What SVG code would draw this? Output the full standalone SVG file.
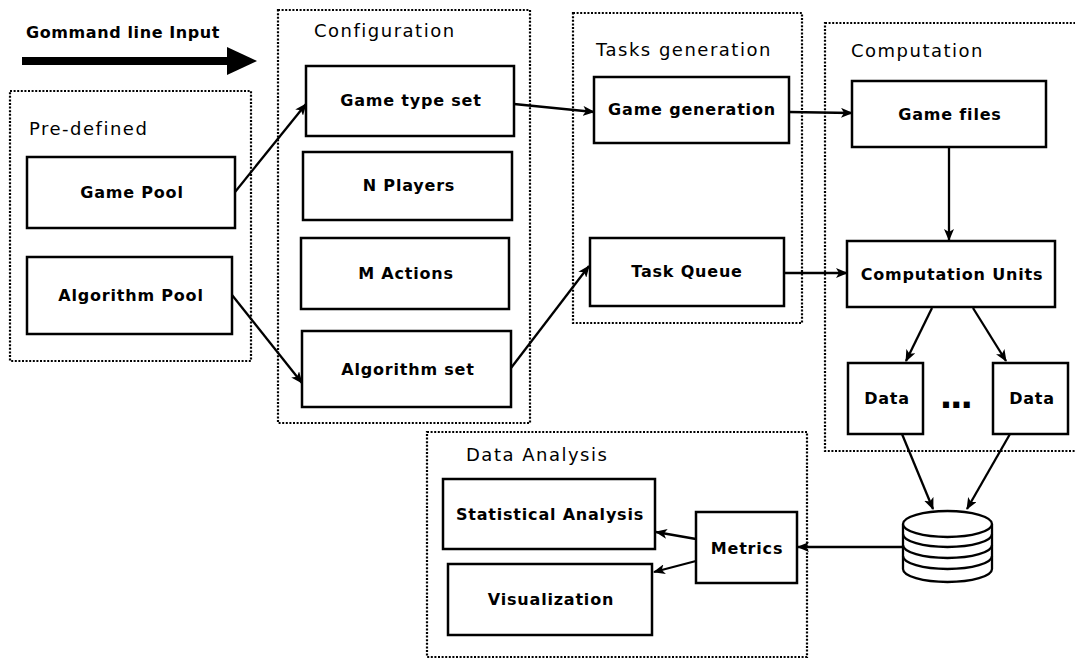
<svg xmlns="http://www.w3.org/2000/svg" width="1075" height="658" viewBox="0 0 1075 658">
<style>
.grp{fill:none;stroke:#000;stroke-width:2.2;stroke-dasharray:2 1.6}
.box{fill:#fff;stroke:#000;stroke-width:2.5}
.t{font-family:"DejaVu Sans",sans-serif;font-weight:bold;font-size:16px;letter-spacing:0.8px;fill:#000;text-anchor:middle}
.h{font-family:"DejaVu Sans",sans-serif;font-size:18px;letter-spacing:1.5px;fill:#000}
.c{fill:none;stroke:#000;stroke-width:2.3}
.db{fill:#fff;stroke:#000;stroke-width:2.3}
</style>
<defs>
<marker id="ah" viewBox="0 0 12 10" refX="11" refY="5" markerWidth="12" markerHeight="10" markerUnits="userSpaceOnUse" orient="auto">
<path d="M0,0 L12,5 L0,10 L3,5 z" fill="#000"/>
</marker>
</defs>
<rect width="1075" height="658" fill="#fff"/>

<g id="cmd-input">
<text x="26" y="38" font-family="DejaVu Sans,sans-serif" font-weight="bold" font-size="16px" letter-spacing="0.6px">Gommand line Input</text>
<line x1="22" y1="61" x2="230" y2="61" stroke="#000" stroke-width="8"/>
<path d="M227,47 L257,61 L227,75 Z" fill="#000"/>
</g>

<g id="predefined">
<rect class="grp" x="10" y="91" width="241" height="270"/>
<text class="h" x="29" y="135">Pre-defined</text>
</g>
<g id="game-pool"><rect class="box" x="27" y="157" width="208" height="71"/><text class="t" x="132" y="198">Game Pool</text></g>
<g id="algorithm-pool"><rect class="box" x="27" y="257" width="205" height="77"/><text class="t" x="131" y="301">Algorithm Pool</text></g>

<g id="configuration">
<rect class="grp" x="278" y="10" width="252" height="413"/>
<text class="h" x="314" y="37">Configuration</text>
</g>
<g id="game-type-set"><rect class="box" x="306" y="66" width="208" height="70"/><text class="t" x="411" y="106">Game type set</text></g>
<g id="n-players"><rect class="box" x="303" y="152" width="209" height="68"/><text class="t" x="409" y="191">N Players</text></g>
<g id="m-actions"><rect class="box" x="301" y="238" width="208" height="71"/><text class="t" x="406" y="279">M Actions</text></g>
<g id="algorithm-set"><rect class="box" x="302" y="331" width="209" height="76"/><text class="t" x="408" y="375">Algorithm set</text></g>

<g id="tasks-generation">
<rect class="grp" x="573" y="13" width="229" height="310"/>
<text class="h" x="596" y="56">Tasks generation</text>
</g>
<g id="game-generation"><rect class="box" x="594" y="77" width="195" height="66"/><text class="t" x="692" y="115">Game generation</text></g>
<g id="task-queue"><rect class="box" x="590" y="238" width="194" height="68"/><text class="t" x="687" y="277">Task Queue</text></g>

<g id="computation">
<rect class="grp" x="825" y="23" width="260" height="428"/>
<text class="h" x="851" y="57">Computation</text>
</g>
<g id="game-files"><rect class="box" x="852" y="81" width="194" height="66"/><text class="t" x="950" y="120">Game files</text></g>
<g id="computation-units"><rect class="box" x="847" y="241" width="208" height="66"/><text class="t" x="952" y="280">Computation Units</text></g>
<g id="data-1"><rect class="box" x="848" y="363" width="75" height="71"/><text class="t" x="887" y="404">Data</text></g>
<g id="ellipsis"><text x="955" y="408" font-family="DejaVu Sans,sans-serif" font-weight="bold" font-size="34px" letter-spacing="-2.5px" text-anchor="middle">...</text></g>
<g id="data-2"><rect class="box" x="993" y="363" width="75" height="71"/><text class="t" x="1032" y="404">Data</text></g>

<g id="database">
<path class="db" d="M903,524 L903,569 A44.5,13 0 0 0 992,569 L992,524"/>
<ellipse class="db" cx="947.5" cy="524" rx="44.5" ry="13"/>
<path class="c" d="M903,534 A44.5,13 0 0 0 992,534 M903,545 A44.5,13 0 0 0 992,545 M903,556 A44.5,13 0 0 0 992,556"/>
</g>

<g id="data-analysis">
<rect class="grp" x="427" y="432" width="380" height="225"/>
<text class="h" x="466" y="461">Data Analysis</text>
</g>
<g id="statistical-analysis"><rect class="box" x="443" y="479" width="212" height="70"/><text class="t" x="550" y="520">Statistical Analysis</text></g>
<g id="visualization"><rect class="box" x="448" y="564" width="204" height="71"/><text class="t" x="551" y="605">Visualization</text></g>
<g id="metrics"><rect class="box" x="696" y="512" width="101" height="71"/><text class="t" x="747" y="554">Metrics</text></g>

<g id="connectors">
<line class="c" x1="235" y1="192" x2="306" y2="104" marker-end="url(#ah)"/>
<line class="c" x1="232" y1="295" x2="302" y2="383" marker-end="url(#ah)"/>
<line class="c" x1="514" y1="104" x2="594" y2="112" marker-end="url(#ah)"/>
<line class="c" x1="511" y1="368" x2="589" y2="266" marker-end="url(#ah)"/>
<line class="c" x1="789" y1="112" x2="852" y2="113" marker-end="url(#ah)"/>
<line class="c" x1="784" y1="273" x2="847" y2="273" marker-end="url(#ah)"/>
<line class="c" x1="949" y1="147" x2="949" y2="240" marker-end="url(#ah)"/>
<line class="c" x1="932" y1="308" x2="906" y2="361" marker-end="url(#ah)"/>
<line class="c" x1="973" y1="308" x2="1006" y2="361" marker-end="url(#ah)"/>
<line class="c" x1="902" y1="434" x2="933" y2="509" marker-end="url(#ah)"/>
<line class="c" x1="1010" y1="434" x2="967" y2="509" marker-end="url(#ah)"/>
<line class="c" x1="902" y1="547" x2="798" y2="547" marker-end="url(#ah)"/>
<line class="c" x1="696" y1="539" x2="656" y2="532" marker-end="url(#ah)"/>
<line class="c" x1="696" y1="561" x2="654" y2="572" marker-end="url(#ah)"/>
</g>
</svg>
